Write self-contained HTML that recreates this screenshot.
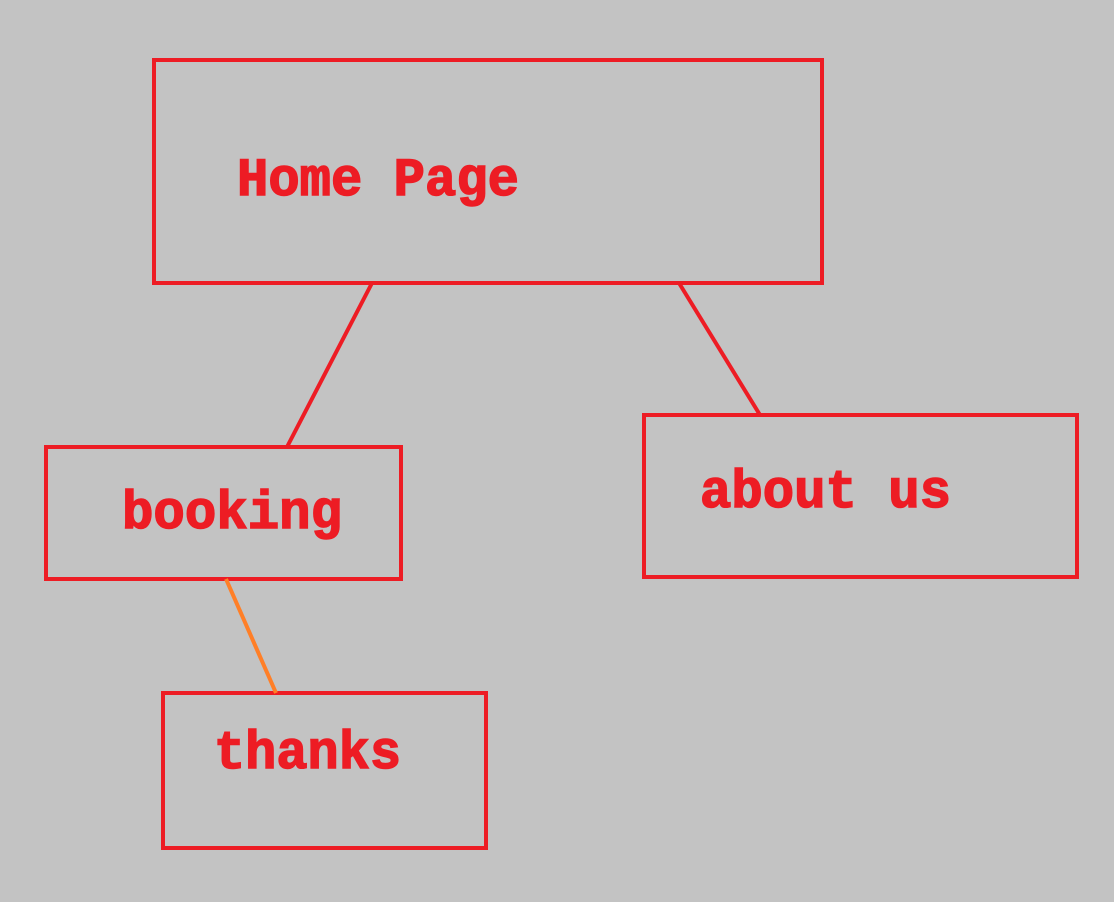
<!DOCTYPE html>
<html><head><meta charset="utf-8"><style>
html,body{margin:0;padding:0;background:#c3c3c3;}
svg{display:block;}
text{font-family:"Liberation Mono",monospace;font-weight:bold;font-size:54px;fill:#ed1c24;stroke:#ed1c24;stroke-width:1.5px;}
</style></head><body>
<svg width="1114" height="902" viewBox="0 0 1114 902" xmlns="http://www.w3.org/2000/svg">
<rect width="1114" height="902" fill="#c3c3c3"/>
<g fill="none" stroke="#ed1c24" stroke-width="4">
<rect x="154" y="60" width="668" height="223"/>
<rect x="46" y="447" width="355" height="132"/>
<rect x="644" y="415" width="433" height="162"/>
<rect x="163" y="693" width="323" height="155"/>
<line x1="372" y1="283" x2="287" y2="447"/>
<line x1="679" y1="283" x2="760" y2="415"/>
</g>
<line x1="226" y1="579" x2="276" y2="693" stroke="#ff7f27" stroke-width="4"/>
<text x="237" y="195" textLength="282" lengthAdjust="spacingAndGlyphs">Home Page</text>
<text x="122" y="528" textLength="220" lengthAdjust="spacingAndGlyphs">booking</text>
<text x="700" y="507" textLength="251" lengthAdjust="spacingAndGlyphs">about us</text>
<text x="214" y="768" textLength="187" lengthAdjust="spacingAndGlyphs">thanks</text>
</svg>
</body></html>
